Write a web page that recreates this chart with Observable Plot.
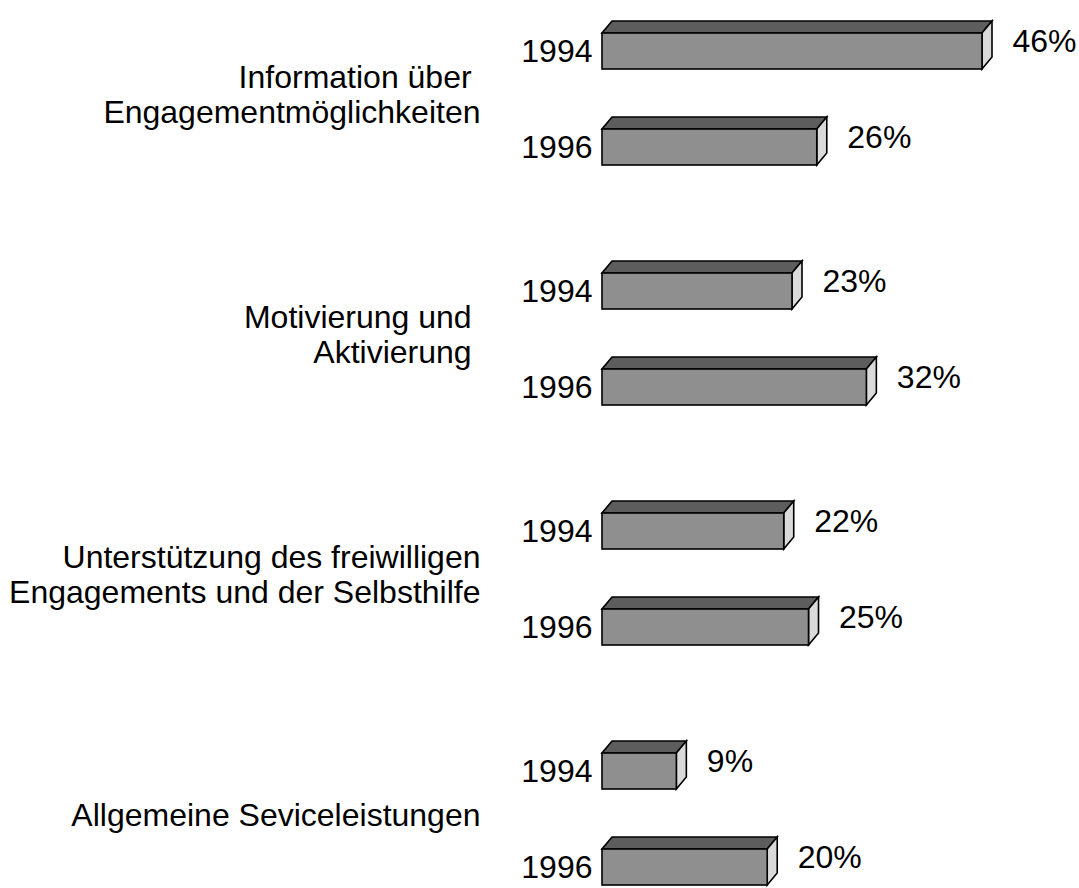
<!DOCTYPE html>
<html>
<head>
<meta charset="utf-8">
<script src="https://cdn.jsdelivr.net/npm/d3@7"></script>
<script src="https://cdn.jsdelivr.net/npm/@observablehq/plot@0.6"></script>
<style>
  html, body { margin: 0; padding: 0; background: #ffffff; overflow: hidden; }
  #chart svg { display: block; }
</style>
</head>
<body>
<div id="chart"></div>
<script>
// ---- data ----
const categories = [
  "Information über\u00A0\nEngagementmöglichkeiten",
  "Motivierung und\u00A0\nAktivierung\u00A0",
  "Unterstützung des freiwilligen\nEngagements und der Selbsthilfe",
  "Allgemeine Seviceleistungen"
];
const years = ["1994", "1996"];
const values1994 = [46, 23, 22, 9];
const values1996 = [26, 32, 25, 20];

// ---- derived table ----
const series = [values1994, values1996];
const rows = [];
categories.forEach((c, i) => {
  years.forEach((yr, j) => {
    rows.push({category: c, year: yr, value: series[j][i], slot: `s${i * 5 + j * 2}`});
  });
});
const slots = d3.range(categories.length * 5 - 2).map(k => `s${k}`);
const yearOfSlot = Object.fromEntries(rows.map(r => [r.slot, r.year]));
const labelRows = categories.map((c, i) => ({label: c, slot: `s${i * 5 + 1}`}));

const font = "'Liberation Sans', Arial, Helvetica, sans-serif";
const depthX = 10, depthY = -12;

const chart = Plot.plot({
  width: 1079,
  height: 888,
  marginLeft: 602,
  marginRight: 97,
  marginTop: 29,
  marginBottom: 0,
  style: {fontFamily: font, fontSize: "32px", background: "#ffffff", color: "#000000", overflow: "visible"},
  x: {domain: [0, d3.max(rows, d => d.value)], axis: null},
  y: {domain: slots, paddingInner: 0.255, paddingOuter: 0},
  marks: [
    // top face
    Plot.barX(rows, {x: "value", y: "slot", fill: "#5d5d5d", stroke: "#000000", strokeWidth: 1.6, strokeLinejoin: "miter"}),
    // side face
    Plot.barX(rows, {x: "value", y: "slot", fill: "#dadada", stroke: "#000000", strokeWidth: 1.6, strokeLinejoin: "miter"}),
    // front face
    Plot.barX(rows, {x: "value", y: "slot", fill: "#8f8f8f", stroke: "#000000", strokeWidth: 1.6, strokeLinejoin: "miter"}),
    Plot.axisY({
      ticks: rows.map(r => r.slot),
      tickFormat: s => yearOfSlot[s],
      tickSize: 0,
      tickPadding: 10,
      fontSize: 32,
      label: null
    }),
    Plot.text(rows, {
      x: "value", y: "slot", text: d => `${d.value}%`,
      textAnchor: "start", dx: 30, dy: -10, fontSize: 32, fill: "#000000"
    }),
    Plot.text(labelRows, {
      y: "slot", text: "label", frameAnchor: "left",
      dx: -122, dy: -5, textAnchor: "end", lineHeight: 1.09, fontSize: 32, fill: "#000000"
    })
  ]
});

// turn the top and side bar rects into 3D faces
const svgNS = "http://www.w3.org/2000/svg";
const barGroups = chart.querySelectorAll('g[aria-label="bar"]');
function toPolygon(g, fn) {
  g.querySelectorAll("rect").forEach(r => {
    const x = +r.getAttribute("x"), y = +r.getAttribute("y");
    const w = +r.getAttribute("width"), h = +r.getAttribute("height");
    const p = document.createElementNS(svgNS, "polygon");
    p.setAttribute("points", fn(x, y, w, h).map(pt => pt.join(",")).join(" "));
    for (const a of ["fill", "stroke", "stroke-width"]) {
      if (r.hasAttribute(a)) p.setAttribute(a, r.getAttribute(a));
    }
    r.replaceWith(p);
  });
}
if (barGroups.length >= 2) {
  toPolygon(barGroups[0], (x, y, w, h) => [[x, y], [x + w, y], [x + w + depthX, y + depthY], [x + depthX, y + depthY]]);
  toPolygon(barGroups[1], (x, y, w, h) => [[x + w, y], [x + w + depthX, y + depthY], [x + w + depthX, y + h + depthY], [x + w, y + h]]);
}

document.getElementById("chart").appendChild(chart);
</script>
</body>
</html>
